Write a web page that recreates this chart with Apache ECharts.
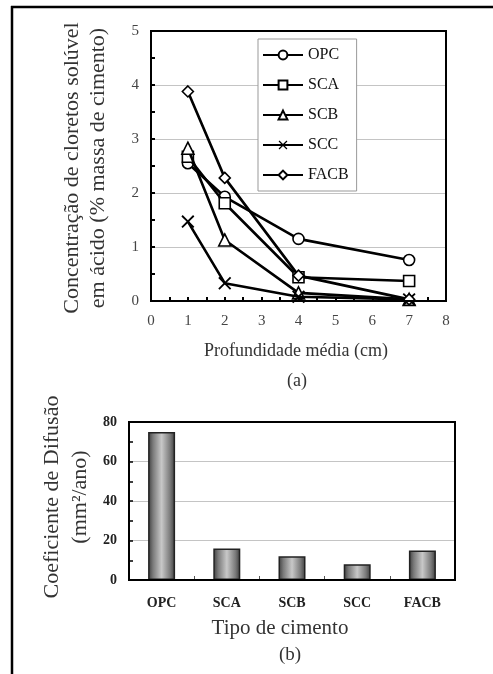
<!DOCTYPE html>
<html>
<head>
<meta charset="utf-8">
<script src="https://cdn.jsdelivr.net/npm/echarts@6/dist/echarts.min.js"></script>
<style>
html,body{margin:0;padding:0;background:#fff;}
#chart{width:493px;height:674px;}
</style>
</head>
<body>
<div id="chart"></div>
<script>
// (a) chloride profile by depth
const depths = [1, 2, 4, 7];
const seriesNames = ['OPC', 'SCA', 'SCB', 'SCC', 'FACB'];
const opc  = [2.55, 1.93, 1.15, 0.76];
const sca  = [2.67, 1.81, 0.44, 0.37];
const scb  = [2.83, 1.13, 0.15, 0.03];
const scc  = [1.47, 0.33, 0.08, 0.03];
const facb = [3.88, 2.28, 0.47, 0.03];
const xTicks = [0, 1, 2, 3, 4, 5, 6, 7, 8];
const yTicks = [0, 1, 2, 3, 4, 5];

// (b) diffusion coefficient by cement type
const cementTypes = ['OPC', 'SCA', 'SCB', 'SCC', 'FACB'];
const diffusion = [75, 16, 12, 8, 15];
const barTicks = [0, 20, 40, 60, 80];

const serif = '"Liberation Serif", "DejaVu Serif", serif';
const crossPath = 'path://M0,1L1,0L5,4L9,0L10,1L6,5L10,9L9,10L5,6L1,10L0,9L4,5Z';

const profiles = [opc, sca, scb, scc, facb];
const symbols = ['circle', 'rect', 'triangle', crossPath, 'diamond'];
const symbolSizes = [11, 11, 12, 13, 11];

const lineSeries = profiles.map((vals, i) => ({
  name: seriesNames[i],
  type: 'line',
  xAxisIndex: 0,
  yAxisIndex: 0,
  data: depths.map((d, j) => [d, vals[j]]),
  symbol: symbols[i],
  symbolSize: symbolSizes[i],
  showAllSymbol: true,
  lineStyle: { color: '#000', width: 2.6 },
  itemStyle: i === 3
    ? { color: '#000', borderWidth: 0 }
    : { color: '#fff', borderColor: '#000', borderWidth: 1.6 },
  emphasis: { disabled: true },
  z: 3 + i
}));

const barGradient = new echarts.graphic.LinearGradient(0, 0, 1, 0, [
  { offset: 0, color: '#3c3c3c' },
  { offset: 0.18, color: '#7a7a7a' },
  { offset: 0.5, color: '#c8c8c8' },
  { offset: 0.82, color: '#7a7a7a' },
  { offset: 1, color: '#3c3c3c' }
]);

const chart = echarts.init(document.getElementById('chart'), null, { renderer: 'canvas' });

chart.setOption({
  animation: false,
  backgroundColor: '#fff',
  grid: [
    { left: 151, top: 31, width: 295, height: 270, show: true, borderColor: '#000', borderWidth: 2, backgroundColor: 'transparent', z: 10 },
    { left: 129, top: 422, width: 326, height: 158, show: true, borderColor: '#000', borderWidth: 2, backgroundColor: 'transparent', z: 10 }
  ],
  legend: {
    data: seriesNames,
    orient: 'vertical',
    left: 258,
    top: 39,
    width: 97,
    padding: [8, 8, 8, 4],
    itemWidth: 40,
    itemHeight: 11,
    itemGap: 14,
    backgroundColor: '#fff',
    borderColor: '#999',
    borderWidth: 1,
    textStyle: { fontFamily: serif, fontSize: 16, color: '#111' },
    selectedMode: false,
    z: 20
  },
  xAxis: [
    {
      type: 'value', gridIndex: 0, min: xTicks[0], max: xTicks[xTicks.length - 1], interval: 1,
      axisLine: { show: true, lineStyle: { color: '#000', width: 2 } },
      axisTick: { show: true, inside: true, length: 4, lineStyle: { color: '#000', width: 2 } },
      minorTick: { show: true, splitNumber: 2, length: 4, lineStyle: { color: '#000', width: 2 } },
      splitLine: { show: false },
      axisLabel: { fontFamily: serif, fontSize: 15, color: '#444', margin: 13 }
    },
    {
      type: 'category', gridIndex: 1, data: cementTypes, boundaryGap: true,
      axisLine: { show: true, lineStyle: { color: '#000', width: 2 } },
      axisTick: { show: true, inside: true, length: 4, alignWithLabel: false, lineStyle: { color: '#555', width: 1 } },
      splitLine: { show: false },
      axisLabel: { fontFamily: serif, fontSize: 14, fontWeight: 'bold', color: '#222', margin: 16 }
    }
  ],
  yAxis: [
    {
      type: 'value', gridIndex: 0, min: yTicks[0], max: yTicks[yTicks.length - 1], interval: 1,
      axisLine: { show: true, lineStyle: { color: '#000', width: 2 } },
      axisTick: { show: true, inside: true, length: 4, lineStyle: { color: '#000', width: 2 } },
      minorTick: { show: true, splitNumber: 2, length: 4, lineStyle: { color: '#000', width: 2 } },
      splitLine: { show: true, lineStyle: { color: '#c4c4c4', width: 1 } },
      axisLabel: { fontFamily: serif, fontSize: 15, color: '#444', margin: 12 }
    },
    {
      type: 'value', gridIndex: 1, min: barTicks[0], max: barTicks[barTicks.length - 1], interval: 20,
      axisLine: { show: true, lineStyle: { color: '#000', width: 2 } },
      axisTick: { show: true, inside: true, length: 4, lineStyle: { color: '#000', width: 1.5 } },
      minorTick: { show: true, splitNumber: 2, length: 4, lineStyle: { color: '#000', width: 1.5 } },
      splitLine: { show: true, lineStyle: { color: '#c4c4c4', width: 1 } },
      axisLabel: { fontFamily: serif, fontSize: 14, fontWeight: 'bold', color: '#222', margin: 12 }
    }
  ],
  series: lineSeries.concat([{
    name: 'Coeficiente de Difusão',
    type: 'bar',
    xAxisIndex: 1,
    yAxisIndex: 1,
    data: diffusion,
    barWidth: 27,
    itemStyle: { color: barGradient, borderColor: '#222', borderWidth: 1.5 },
    emphasis: { disabled: true },
    z: 3
  }]),
  graphic: [
    // outer frame (top and left edges)
    { type: 'line', shape: { x1: 11, y1: 7, x2: 493, y2: 7 }, style: { stroke: '#000', lineWidth: 2.5 } },
    { type: 'line', shape: { x1: 12, y1: 6, x2: 12, y2: 674 }, style: { stroke: '#000', lineWidth: 2.5 } },
    // (a) axis titles
    { type: 'text', x: 72, y: 168, rotation: Math.PI / 2, style: { text: 'Concentração de cloretos solúvel', fontFamily: serif, fontSize: 22, fill: '#333', align: 'center', verticalAlign: 'middle' } },
    { type: 'text', x: 98, y: 168, rotation: Math.PI / 2, style: { text: 'em ácido (% massa de cimento)', fontFamily: serif, fontSize: 22, fill: '#333', align: 'center', verticalAlign: 'middle' } },
    { type: 'text', x: 296, y: 351, style: { text: 'Profundidade média (cm)', fontFamily: serif, fontSize: 18, fill: '#333', align: 'center', verticalAlign: 'middle' } },
    { type: 'text', x: 297, y: 381, style: { text: '(a)', fontFamily: serif, fontSize: 18, fill: '#333', align: 'center', verticalAlign: 'middle' } },
    // (b) axis titles
    { type: 'text', x: 52, y: 497, rotation: Math.PI / 2, style: { text: 'Coeficiente de Difusão', fontFamily: serif, fontSize: 22, fill: '#333', align: 'center', verticalAlign: 'middle' } },
    { type: 'text', x: 80, y: 497, rotation: Math.PI / 2, style: { text: '(mm²/ano)', fontFamily: serif, fontSize: 22, fill: '#333', align: 'center', verticalAlign: 'middle' } },
    { type: 'text', x: 280, y: 628, style: { text: 'Tipo de cimento', fontFamily: serif, fontSize: 21, fill: '#333', align: 'center', verticalAlign: 'middle' } },
    { type: 'text', x: 290, y: 655, style: { text: '(b)', fontFamily: serif, fontSize: 19, fill: '#333', align: 'center', verticalAlign: 'middle' } }
  ]
});
</script>
</body>
</html>
